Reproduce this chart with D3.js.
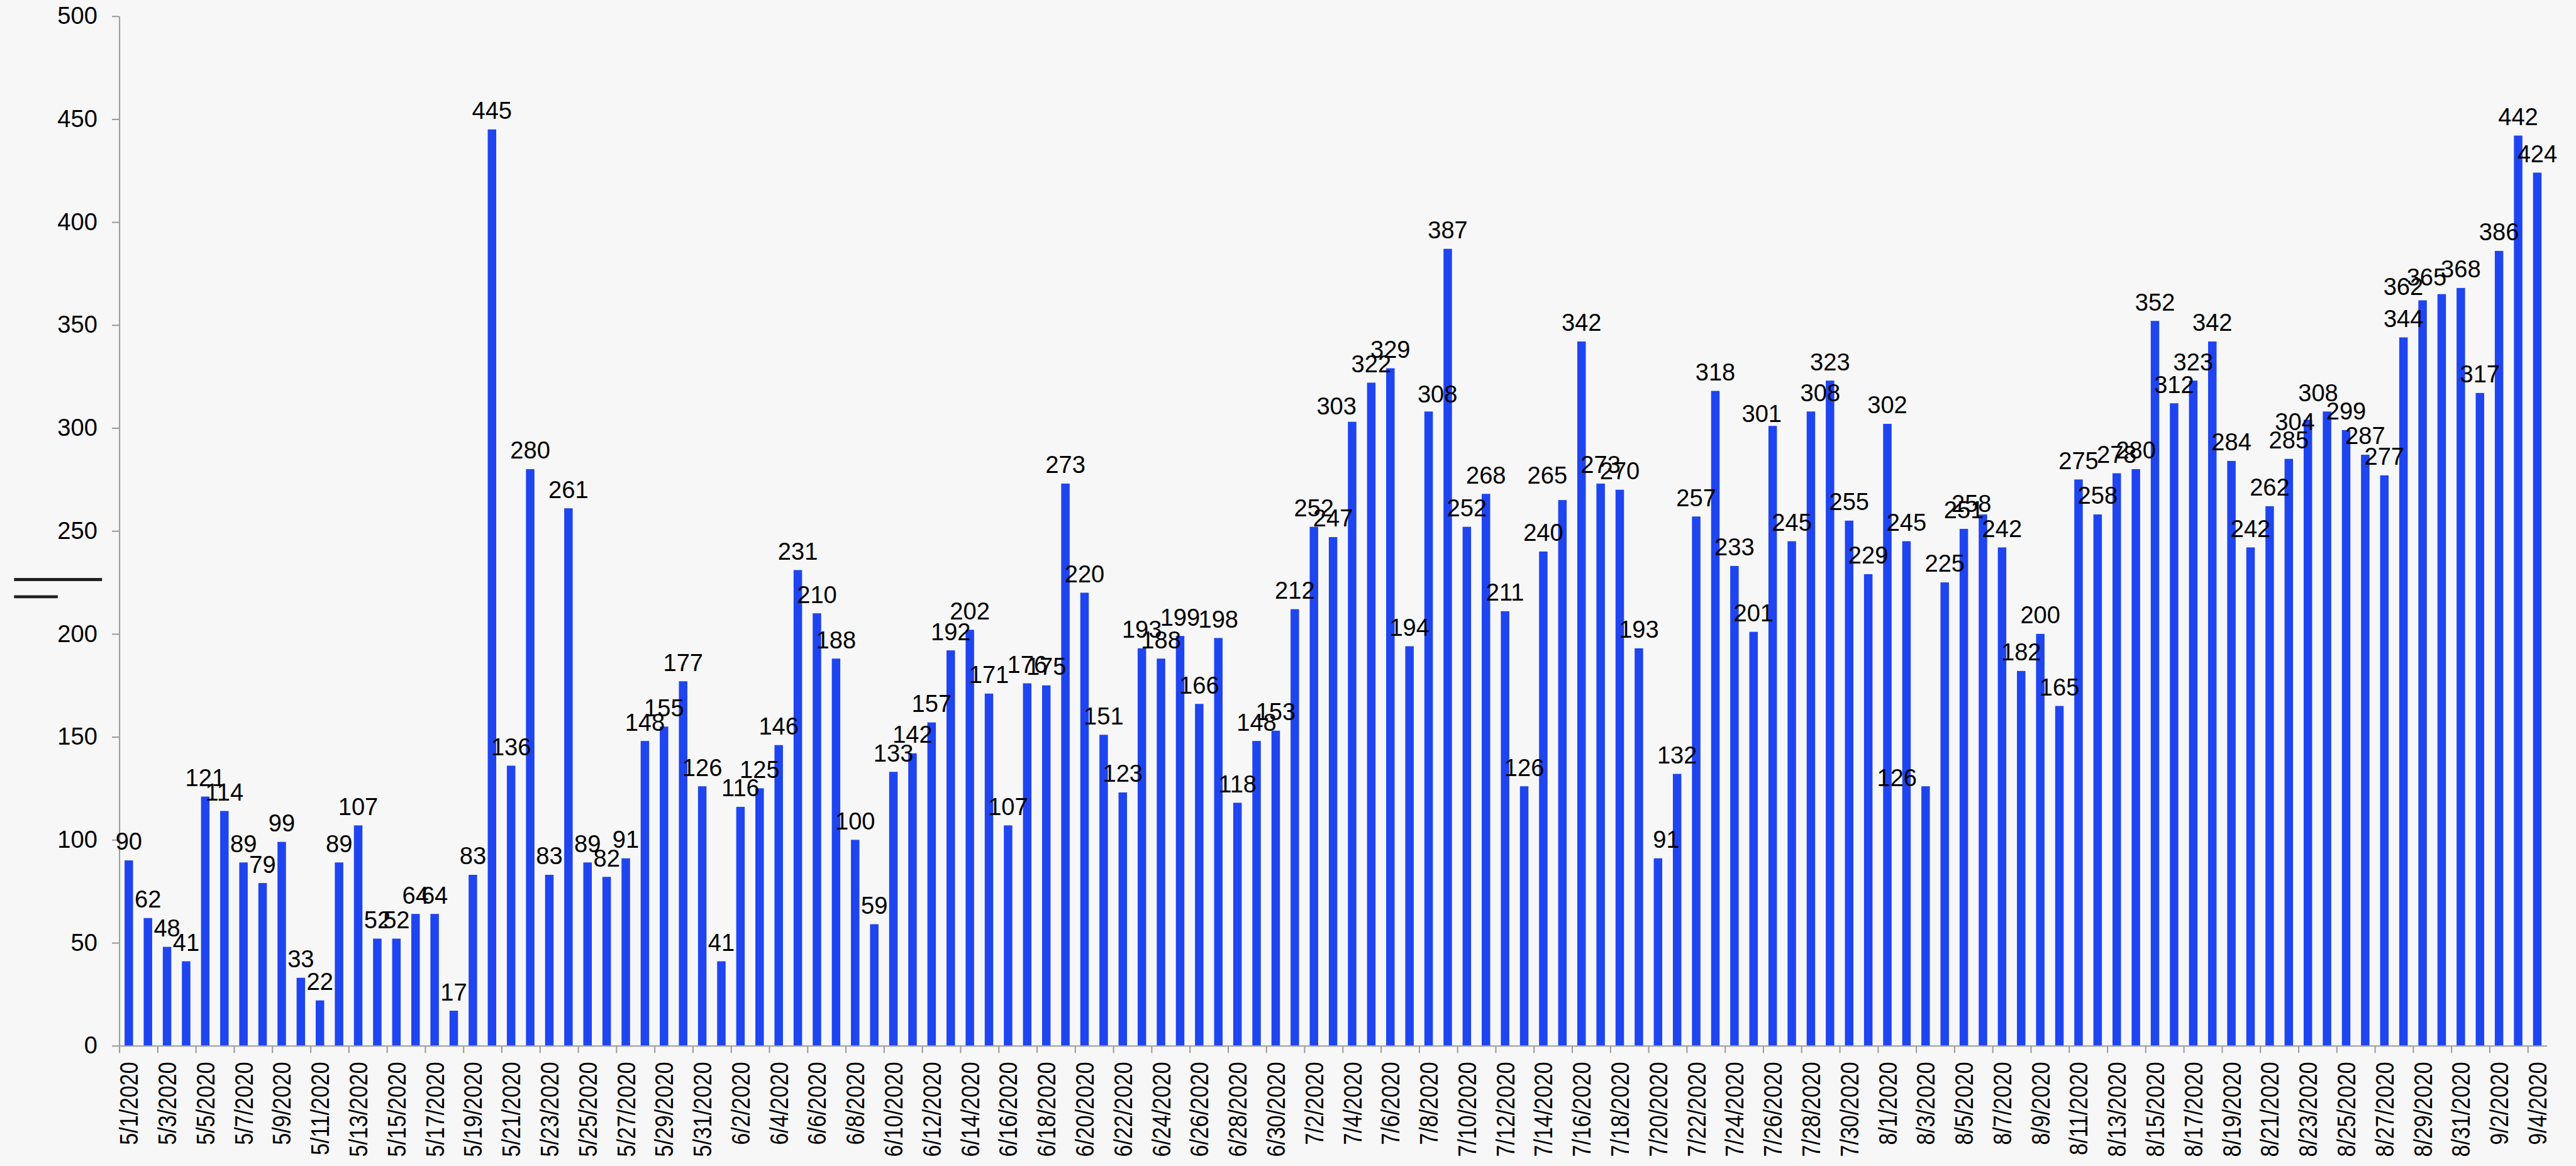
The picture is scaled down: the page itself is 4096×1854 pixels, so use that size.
<!DOCTYPE html>
<html>
<head>
<meta charset="utf-8">
<script src="https://cdn.jsdelivr.net/npm/d3@7"></script>
<style>
  html, body { margin: 0; padding: 0; background: #f7f7f7; }
  svg { display: block; }
</style>
</head>
<body>
<div class="center"></div>
<script>
// daily counts, 5/1/2020 - 9/4/2020
const mayDates = ["5/1/2020","5/2/2020","5/3/2020","5/4/2020","5/5/2020","5/6/2020","5/7/2020","5/8/2020","5/9/2020","5/10/2020",
  "5/11/2020","5/12/2020","5/13/2020","5/14/2020","5/15/2020","5/16/2020","5/17/2020","5/18/2020","5/19/2020","5/20/2020",
  "5/21/2020","5/22/2020","5/23/2020","5/24/2020","5/25/2020","5/26/2020","5/27/2020","5/28/2020","5/29/2020","5/30/2020","5/31/2020"];
const junDates = ["6/1/2020","6/2/2020","6/3/2020","6/4/2020","6/5/2020","6/6/2020","6/7/2020","6/8/2020","6/9/2020","6/10/2020",
  "6/11/2020","6/12/2020","6/13/2020","6/14/2020","6/15/2020","6/16/2020","6/17/2020","6/18/2020","6/19/2020","6/20/2020",
  "6/21/2020","6/22/2020","6/23/2020","6/24/2020","6/25/2020","6/26/2020","6/27/2020","6/28/2020","6/29/2020","6/30/2020"];
const julDates = ["7/1/2020","7/2/2020","7/3/2020","7/4/2020","7/5/2020","7/6/2020","7/7/2020","7/8/2020","7/9/2020","7/10/2020",
  "7/11/2020","7/12/2020","7/13/2020","7/14/2020","7/15/2020","7/16/2020","7/17/2020","7/18/2020","7/19/2020","7/20/2020",
  "7/21/2020","7/22/2020","7/23/2020","7/24/2020","7/25/2020","7/26/2020","7/27/2020","7/28/2020","7/29/2020","7/30/2020","7/31/2020"];
const augDates = ["8/1/2020","8/2/2020","8/3/2020","8/4/2020","8/5/2020","8/6/2020","8/7/2020","8/8/2020","8/9/2020","8/10/2020",
  "8/11/2020","8/12/2020","8/13/2020","8/14/2020","8/15/2020","8/16/2020","8/17/2020","8/18/2020","8/19/2020","8/20/2020",
  "8/21/2020","8/22/2020","8/23/2020","8/24/2020","8/25/2020","8/26/2020","8/27/2020","8/28/2020","8/29/2020","8/30/2020","8/31/2020"];
const sepDates = ["9/1/2020","9/2/2020","9/3/2020","9/4/2020"];

const mayCounts = [90,62,48,41,121,114,89,79,99,33,22,89,107,52,52,64,64,17,83,445,136,280,83,261,89,82,91,148,155,177,126];
const junCounts = [41,116,125,146,231,210,188,100,59,133,142,157,192,202,171,107,176,175,273,220,151,123,193,188,199,166,198,118,148,153];
const julCounts = [212,252,247,303,322,329,194,308,387,252,268,211,126,240,265,342,273,270,193,91,132,257,318,233,201,301,245,308,323,255,229];
const augCounts = [302,245,126,225,251,258,242,182,200,165,275,258,278,280,352,312,323,342,284,242,262,285,304,308,299,287,277,344,362,365,368];
const sepCounts = [317,386,442,424];

const yTicks = [0, 50, 100, 150, 200, 250, 300, 350, 400, 450, 500];

const dates = [...mayDates, ...junDates, ...julDates, ...augDates, ...sepDates];
const counts = [...mayCounts, ...junCounts, ...julCounts, ...augCounts, ...sepCounts];
const data = dates.map((d, i) => ({date: d, value: counts[i]}));

// every other date gets a label
const tickLabels = dates.filter((d, i) => i % 2 === 0);

// labels that were moved off their default spot in the original (ref px)
const labelNudge = {
  "7/4/2020": [-30, 6], "7/8/2020": [17, 3], "7/15/2020": [-29, -11], "7/20/2020": [16, 0],
  "7/26/2020": [-21, 13], "7/28/2020": [18, 0], "8/3/2020": [-55, 20], "8/6/2020": [-22, 15],
  "8/23/2020": [-25, 40], "8/24/2020": [-17, 0], "8/29/2020": [-37, 10], "8/30/2020": [-29, 3]
};

// everything is measured on the 4947 x 2239 original, then shrunk
const S = 4096 / 4947;
const W = 4096, H = 1854;
const margin = {top: 31 * S, right: 56 * S, bottom: 231 * S, left: 229 * S};
const width = W - margin.left - margin.right;
const height = H - margin.top - margin.bottom;

const svg = d3.select(".center").append("svg")
  .attr("width", W)
  .attr("height", H)
  .style("background", "#f7f7f7");

const g = svg.append("g").attr("transform", `translate(${margin.left},${margin.top})`);

const xScale = d3.scaleBand().domain(dates).range([0, width]).paddingInner(0.556).paddingOuter(0.278);
const xEdge = d3.scaleLinear().domain([0, dates.length]).range([0, width]);
const yScale = d3.scaleLinear().domain([0, 500]).range([height, 0]);

const axisColor = "#9b9b9b";
const font = "'Liberation Sans', Arial, sans-serif";

// bars
g.selectAll(".bar")
  .data(data)
  .enter().append("rect")
  .attr("class", "bar")
  .attr("x", d => xScale(d.date))
  .attr("y", d => yScale(d.value))
  .attr("width", xScale.bandwidth())
  .attr("height", d => height - yScale(d.value))
  .style("fill", "#1e45f0");

// y axis
const yAxis = d3.axisLeft(yScale).tickValues(yTicks).tickSize(14 * S).tickSizeOuter(0).tickPadding(28 * S);
const yG = g.append("g").call(yAxis);
yG.selectAll("path, line").attr("stroke", axisColor).attr("stroke-width", 2.5 * S);
yG.selectAll("text")
  .style("font-family", font)
  .style("font-size", (46 * S) + "px")
  .attr("fill", "#000");

// x axis: tick marks between every second pair of bars
const xAxis = d3.axisBottom(xEdge)
  .tickValues(d3.range(0, dates.length, 2))
  .tickSize(14 * S).tickSizeOuter(0).tickFormat("");
const xG = g.append("g").attr("transform", `translate(0,${height})`).call(xAxis);
xG.selectAll("path, line").attr("stroke", axisColor).attr("stroke-width", 2.5 * S);

// x labels, rotated, narrow
g.append("g").selectAll("text")
  .data(tickLabels)
  .enter().append("text")
  .attr("transform", d => `translate(${xScale(d) + xScale.bandwidth() / 2},${height + 31 * S}) rotate(-90) scale(0.82,1)`)
  .attr("text-anchor", "end")
  .attr("dy", "0.35em")
  .style("font-family", font)
  .style("font-size", (50 * S) + "px")
  .attr("fill", "#000")
  .text(d => d);

// value labels
g.append("g").selectAll("text")
  .data(data)
  .enter().append("text")
  .attr("x", d => xScale(d.date) + xScale.bandwidth() / 2 + (labelNudge[d.date] ? labelNudge[d.date][0] * S : 0))
  .attr("y", d => yScale(d.value) - 20 * S + (labelNudge[d.date] ? labelNudge[d.date][1] * S : 0))
  .attr("text-anchor", "middle")
  .style("font-family", font)
  .style("font-size", (46 * S) + "px")
  .attr("fill", "#000")
  .text(d => d.value);

// the two dark strokes left of the y axis
const marks = svg.append("g").attr("stroke", "#222").attr("stroke-width", 6 * S);
marks.append("line").attr("x1", 27 * S).attr("x2", 196 * S).attr("y1", 1113 * S).attr("y2", 1113 * S);
marks.append("line").attr("x1", 27 * S).attr("x2", 111 * S).attr("y1", 1146 * S).attr("y2", 1146 * S);
</script>
</body>
</html>
